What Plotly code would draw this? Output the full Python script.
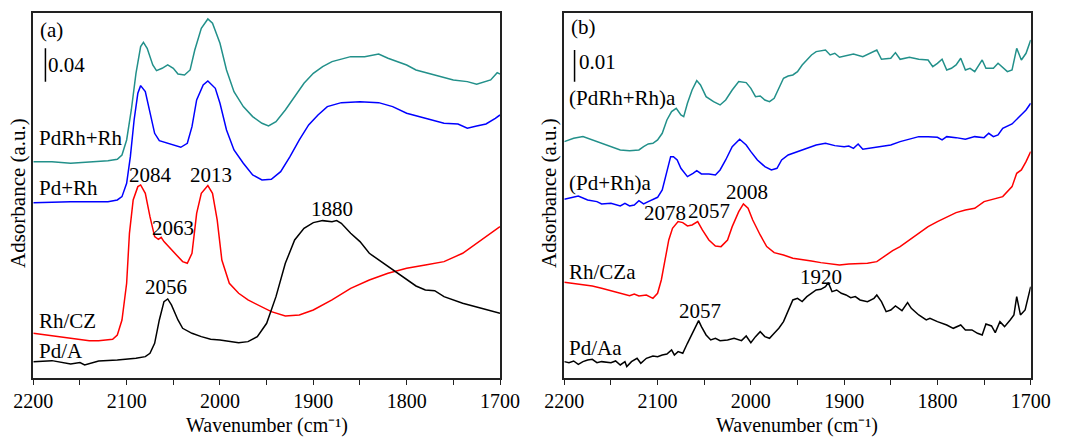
import plotly.graph_objects as go

# ---------------- Panel (a) ----------------
a_teal_x = [2200, 2180, 2160, 2140, 2120, 2110, 2105, 2100, 2095, 2090, 2085, 2082, 2078, 2072, 2068, 2062, 2056, 2050,
            2045, 2038, 2032, 2027, 2020, 2013, 2008, 2000, 1993, 1985, 1975, 1965, 1955, 1948, 1940, 1930, 1920, 1910,
            1900, 1890, 1880, 1860, 1845, 1830, 1820, 1800, 1790, 1770, 1750, 1735, 1725, 1710, 1703, 1700]
a_teal_y = [650, 650, 645, 648, 653, 657, 670, 715, 805, 915, 995, 1008, 990, 940, 923, 930, 940, 930,
            913, 910, 925, 985, 1050, 1078, 1065, 1005, 925, 860, 815, 785, 765, 757, 770, 805, 845, 885,
            915, 935, 950, 965, 965, 973, 960, 940, 925, 910, 895, 890, 882, 895, 917, 913]

a_blue_x = [2200, 2160, 2120, 2110, 2105, 2100, 2096, 2092, 2088, 2085, 2080, 2075, 2070, 2065, 2058, 2050, 2042, 2035,
            2030, 2025, 2018, 2013, 2005, 2000, 1993, 1985, 1975, 1965, 1955, 1945, 1935, 1925, 1915, 1905, 1895, 1885,
            1870, 1850, 1830, 1815, 1800, 1780, 1760, 1745, 1735, 1725, 1715, 1705, 1700]
a_blue_y = [527, 530, 530, 535, 545, 585, 665, 775, 855, 878, 860, 795, 735, 713, 707, 700, 693, 705,
            755, 835, 880, 892, 870, 825, 745, 685, 645, 610, 595, 597, 620, 665, 715, 760, 790, 815,
            827, 830, 827, 815, 795, 780, 765, 763, 750, 757, 763, 780, 790]

a_red_x = [2200, 2180, 2160, 2140, 2130, 2115, 2110, 2105, 2100, 2097, 2093, 2088, 2085, 2080, 2075, 2070, 2066, 2063,
           2060, 2050, 2040, 2035, 2030, 2025, 2020, 2013, 2008, 2003, 1998, 1990, 1980, 1970, 1960, 1945, 1930, 1915,
           1900, 1880, 1860, 1840, 1820, 1800, 1780, 1760, 1740, 1720, 1710, 1700]
a_red_y = [135, 127, 120, 113, 113, 117, 130, 175, 285, 435, 535, 575, 580, 555, 485, 425, 417, 423,
           410, 380, 350, 345, 375, 495, 555, 578, 555, 475, 355, 285, 255, 235, 220, 200, 187, 190,
           205, 235, 270, 295, 315, 330, 340, 350, 375, 415, 435, 455]

a_black_x = [2200, 2180, 2160, 2150, 2145, 2130, 2110, 2090, 2080, 2075, 2070, 2065, 2060, 2056, 2052, 2045, 2040, 2030,
             2020, 2010, 2000, 1990, 1980, 1970, 1960, 1950, 1940, 1930, 1920, 1910, 1900, 1890, 1880, 1875, 1870, 1860,
             1850, 1840, 1820, 1800, 1790, 1780, 1770, 1760, 1740, 1720, 1700]
a_black_y = [50, 53, 43, 47, 40, 52, 55, 60, 65, 75, 105, 175, 230, 238, 220, 175, 150, 135,
             125, 117, 115, 110, 107, 110, 125, 165, 245, 345, 415, 450, 467, 473, 470, 473, 465, 435,
             410, 375, 335, 295, 277, 265, 263, 245, 225, 210, 195]

# ---------------- Panel (b) ----------------
b_teal_x = [2200, 2190, 2180, 2170, 2160, 2150, 2140, 2130, 2120, 2115, 2110, 2105, 2100, 2095, 2090, 2085, 2080, 2075,
            2072, 2068, 2063, 2058, 2054, 2048, 2040, 2033, 2027, 2020, 2013, 2005, 2000, 1995, 1990, 1985, 1980, 1975,
            1970, 1965, 1960, 1955, 1950, 1945, 1940, 1935, 1930, 1920, 1915, 1910, 1905, 1900, 1890, 1880, 1875, 1865,
            1860, 1850, 1845, 1840, 1830, 1820, 1810, 1805, 1800, 1795, 1790, 1785, 1780, 1775, 1770, 1765, 1760, 1752,
            1748, 1740, 1735, 1725, 1720, 1715, 1710, 1705, 1700]
b_teal_y = [710, 720, 725, 715, 705, 695, 685, 683, 685, 695, 703, 705, 715, 735, 775, 800, 810, 790,
            785, 825, 865, 893, 880, 845, 830, 820, 835, 865, 890, 887, 870, 845, 847, 835, 830, 840,
            870, 900, 907, 910, 920, 940, 955, 970, 980, 985, 970, 975, 963, 967, 973, 965, 972, 985,
            957, 960, 977, 957, 963, 957, 955, 935, 945, 957, 925, 930, 940, 960, 925, 930, 920, 955,
            930, 930, 945, 920, 925, 990, 955, 975, 1015]

b_blue_x = [2200, 2190, 2185, 2175, 2165, 2160, 2150, 2140, 2135, 2130, 2125, 2120, 2115, 2110, 2100, 2095, 2090, 2086,
            2083, 2079, 2075, 2068, 2062, 2058, 2053, 2045, 2038, 2033, 2027, 2020, 2012, 2005, 2000, 1993, 1985, 1978,
            1972, 1967, 1960, 1950, 1940, 1930, 1920, 1910, 1900, 1895, 1890, 1885, 1880, 1870, 1860, 1850, 1840, 1830,
            1820, 1810, 1800, 1795, 1790, 1780, 1770, 1760, 1750, 1745, 1740, 1735, 1730, 1720, 1710, 1705, 1700]
b_blue_y = [537, 543, 547, 535, 530, 523, 525, 517, 525, 517, 520, 533, 523, 530, 543, 565, 625, 665,
            665, 655, 630, 605, 615, 623, 613, 613, 610, 625, 655, 695, 717, 700, 680, 655, 635, 625,
            630, 655, 670, 680, 690, 700, 705, 698, 695, 697, 690, 703, 687, 692, 695, 700, 710, 717,
            725, 725, 723, 715, 725, 722, 717, 725, 722, 735, 725, 730, 750, 763, 790, 805, 825]

b_red_x = [2200, 2190, 2180, 2170, 2160, 2150, 2140, 2130, 2125, 2120, 2112, 2108, 2105, 2100, 2096, 2092, 2088, 2084,
           2078, 2073, 2068, 2063, 2057, 2052, 2045, 2038, 2032, 2025, 2020, 2013, 2008, 2003, 1998, 1990, 1983, 1975,
           1965, 1955, 1945, 1935, 1925, 1915, 1905, 1895, 1885, 1875, 1865, 1855, 1848, 1840, 1830, 1820, 1810, 1800,
           1790, 1780, 1770, 1760, 1750, 1740, 1730, 1720, 1715, 1710, 1705, 1700]
b_red_y = [288, 285, 280, 277, 270, 263, 255, 248, 253, 247, 250, 245, 240, 255, 295, 355, 415, 450,
           470, 467, 457, 460, 470, 445, 415, 397, 395, 415, 455, 500, 523, 510, 475, 430, 395, 377,
           370, 360, 357, 352, 347, 343, 340, 343, 345, 345, 350, 370, 383, 395, 415, 435, 455, 470,
           483, 497, 505, 510, 530, 537, 545, 575, 615, 625, 650, 680]

b_black_x = [2200, 2195, 2190, 2185, 2180, 2175, 2170, 2165, 2160, 2150, 2145, 2140, 2135, 2133, 2128, 2122, 2118, 2112,
             2105, 2100, 2095, 2090, 2085, 2082, 2078, 2073, 2068, 2063, 2058, 2056, 2053, 2048, 2043, 2038, 2033, 2025,
             2018, 2010, 2005, 2000, 1995, 1990, 1985, 1980, 1975, 1970, 1965, 1960, 1955, 1950, 1945, 1940, 1935, 1930,
             1925, 1920, 1917, 1913, 1908, 1903, 1898, 1893, 1888, 1883, 1875, 1868, 1865, 1860, 1855, 1850, 1845, 1838,
             1832, 1828, 1820, 1812, 1808, 1800, 1790, 1783, 1775, 1770, 1763, 1757, 1752, 1748, 1742, 1738, 1733, 1728,
             1722, 1718, 1715, 1711, 1706, 1702, 1700]
b_black_y = [50, 47, 52, 42, 50, 55, 57, 47, 50, 47, 52, 40, 50, 35, 50, 60, 45, 60,
             67, 65, 70, 73, 85, 70, 80, 75, 105, 135, 160, 173, 155, 130, 115, 120, 113, 115,
             120, 113, 127, 107, 125, 140, 125, 120, 135, 150, 170, 205, 235, 240, 230, 245, 255, 265,
             267, 275, 287, 260, 265, 255, 250, 242, 245, 235, 230, 240, 250, 230, 200, 205, 217, 203,
             227, 210, 190, 175, 180, 170, 160, 150, 160, 145, 145, 135, 130, 163, 157, 137, 170, 155,
             175, 190, 245, 190, 205, 255, 275]

TEAL = "#22908a"
BLUE = "#0000ff"
RED = "#ff0000"
BLACK = "#000000"
FONT = "Liberation Serif"

fig = go.Figure()

series = [
    (a_teal_x, a_teal_y, TEAL, "x", "y"),
    (a_blue_x, a_blue_y, BLUE, "x", "y"),
    (a_red_x, a_red_y, RED, "x", "y"),
    (a_black_x, a_black_y, BLACK, "x", "y"),
    (b_teal_x, b_teal_y, TEAL, "x2", "y2"),
    (b_blue_x, b_blue_y, BLUE, "x2", "y2"),
    (b_red_x, b_red_y, RED, "x2", "y2"),
    (b_black_x, b_black_y, BLACK, "x2", "y2"),
]
for xs, ys, c, xa, ya in series:
    fig.add_trace(go.Scatter(x=xs, y=ys, mode="lines", line=dict(color=c, width=1.5),
                             xaxis=xa, yaxis=ya, showlegend=False, hoverinfo="skip"))

xcommon = dict(range=[2200, 1700], tickvals=[2200, 2100, 2000, 1900, 1800, 1700],
               ticks="outside", ticklen=5, tickwidth=1.3, tickcolor="#222",
               minor=dict(tickvals=[2150, 2050, 1950, 1850, 1750], ticks="outside", ticklen=5,
                          tickwidth=1.3, tickcolor="#222"),
               showline=True, linecolor="#222", linewidth=1.5, mirror=True,
               showgrid=False, zeroline=False, automargin=False,
               tickfont=dict(family=FONT, size=20, color="black"), ticklabelstandoff=-1)
ycommon = dict(range=[0, 1095], showticklabels=False, ticks="", showline=True, linecolor="#222",
               linewidth=1.5, mirror=True, showgrid=False, zeroline=False, automargin=False)

W, H = 1070, 437
ydom = [(H - 378.3) / H, (H - 13.3) / H]
fig.update_layout(
    width=W, height=H, margin=dict(l=0, r=0, t=0, b=0, autoexpand=False),
    paper_bgcolor="white", plot_bgcolor="white",
    xaxis=dict(domain=[33.3 / W, 500 / W], anchor="y", **xcommon),
    yaxis=dict(domain=ydom, anchor="x", **ycommon),
    xaxis2=dict(domain=[564.3 / W, 1030.7 / W], anchor="y2", **xcommon),
    yaxis2=dict(domain=ydom, anchor="x2", **ycommon),
)

# scale bars
fig.add_shape(type="line", xref="x", yref="y", x0=2187, x1=2187, y0=890, y1=990,
              line=dict(color="black", width=1.5))
fig.add_shape(type="line", xref="x2", yref="y2", x0=2189, x1=2189, y0=890, y1=985,
              line=dict(color="black", width=1.5))

def px_text(x, y, text, anchor="left", size=21, angle=0):
    fig.add_annotation(xref="paper", yref="paper", x=x / W, y=1 - y / H, text=text,
                       showarrow=False, xanchor=anchor, yanchor="middle", textangle=angle,
                       font=dict(family=FONT, size=size, color="black"))

# panel (a) labels
px_text(38, 30, "(a)")
px_text(46, 65, "0.04")
px_text(37, 138, "PdRh+Rh")
px_text(37, 188, "Pd+Rh")
px_text(37, 321, "Rh/CZ")
px_text(37, 351, "Pd/A")
px_text(150, 175, "2084", "center")
px_text(211, 175, "2013", "center")
px_text(173, 228, "2063", "center")
px_text(332, 209, "1880", "center")
px_text(166, 287, "2056", "center")

# panel (b) labels
px_text(569, 27, "(b)")
px_text(577, 62, "0.01")
px_text(567, 98, "(PdRh+Rh)a")
px_text(567, 183, "(Pd+Rh)a")
px_text(567, 272, "Rh/CZa")
px_text(567, 348, "Pd/Aa")
px_text(665, 213, "2078", "center")
px_text(709, 211, "2057", "center")
px_text(747, 192, "2008", "center")
px_text(821, 277, "1920", "center")
px_text(700, 311, "2057", "center")

# axis titles
px_text(18, 193, "Adsorbance (a.u.)", "center", angle=-90)
px_text(549, 193, "Adsorbance (a.u.)", "center", angle=-90)
px_text(267, 425, "Wavenumber (cm⁻¹)", "center", size=20)
px_text(797, 425, "Wavenumber (cm⁻¹)", "center", size=20)

fig.write_html("out.html")
